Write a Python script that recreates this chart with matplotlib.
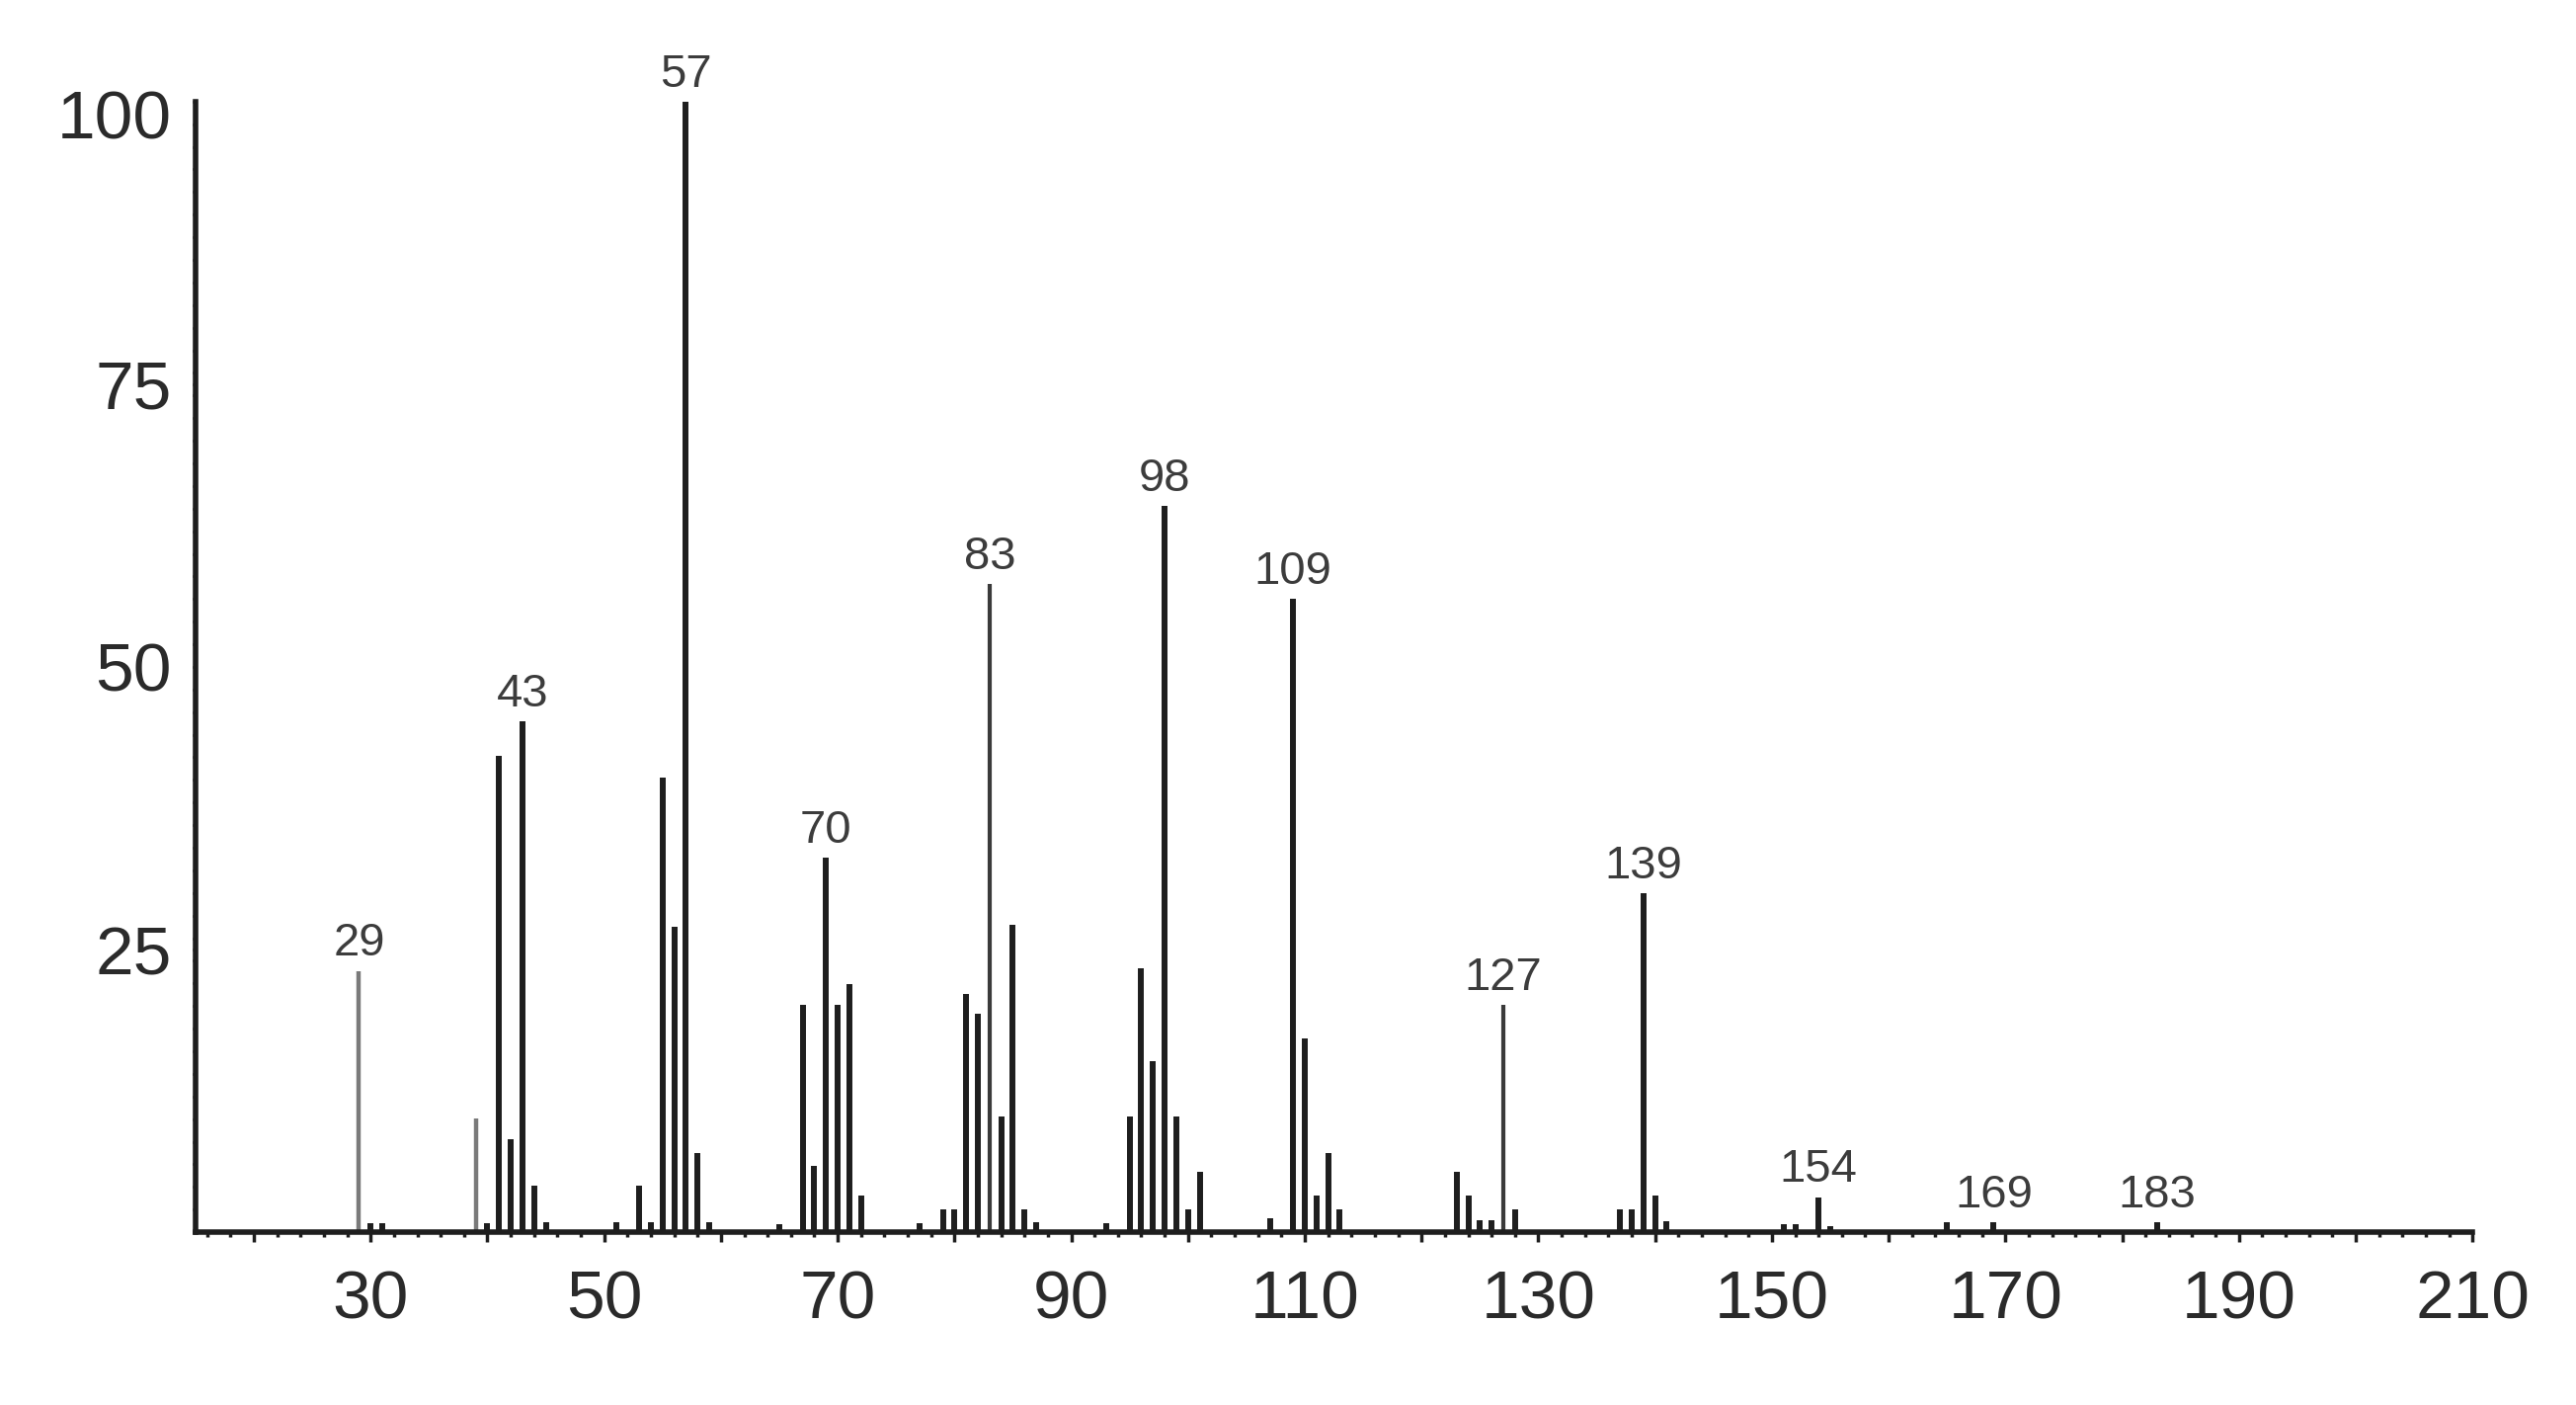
import matplotlib
matplotlib.use('Agg')
import matplotlib.pyplot as plt
import matplotlib.transforms as mtransforms
from matplotlib.ticker import MultipleLocator, FixedLocator, FuncFormatter

# ---- data (m/z vs relative intensity) ----
mz = [29, 30, 31, 39, 40, 41, 42, 43, 44, 45, 51, 53, 54, 55, 56, 57, 58, 59,
      65, 67, 68, 69, 70, 71, 72, 77, 79, 80, 81, 82, 83, 84, 85, 86, 87, 93,
      95, 96, 97, 98, 99, 100, 101, 107, 109, 110, 111, 112, 113, 123, 124,
      125, 126, 127, 128, 137, 138, 139, 140, 141, 151, 152, 154, 155, 165,
      169, 183]
intensity = [23.1, 0.8, 0.8, 10.1, 0.8, 42.1, 8.2, 45.2, 4.1, 0.9, 0.9, 4.1,
             0.9, 40.2, 27.0, 100.0, 7.0, 0.9, 0.7, 20.1, 5.9, 33.1, 20.1,
             21.9, 3.2, 0.8, 2.0, 2.0, 21.1, 19.3, 57.3, 10.2, 27.2, 2.0, 0.9,
             0.8, 10.2, 23.3, 15.1, 64.2, 10.2, 2.0, 5.3, 1.2, 56.0, 17.1, 3.2,
             7.0, 2.0, 5.3, 3.2, 1.1, 1.1, 20.1, 2.0, 2.0, 2.0, 30.0, 3.2, 1.0,
             0.7, 0.7, 3.1, 0.5, 0.9, 0.9, 0.9]

label_mz = [29, 43, 57, 69, 83, 98, 109, 127, 139, 154, 169, 183]
label_text = ['29', '43', '57', '70', '83', '98', '109', '127', '139', '154', '169', '183']

x_major = list(range(20, 211, 10))
x_labelled = list(range(30, 211, 20))
y_labelled = [25, 50, 75, 100]

# ---- styles ----
grey_peaks = {29, 39}
thin_peaks = {83, 127}

plt.rcParams['font.family'] = ['Liberation Sans', 'DejaVu Sans']

fig = plt.figure(figsize=(26.08, 14.22), dpi=100)
ax = fig.add_axes([0.0759, 0.123, 0.8839, 0.8047])

for m, v in zip(mz, intensity):
    if m in grey_peaks:
        col, lw = '#7a7a7a', 3.2
    elif m in thin_peaks:
        col, lw = '#3a3a3a', 3.0
    else:
        col, lw = '#1e1e1e', 4.3
    ax.vlines(m, 0, v, colors=col, linewidth=lw, clip_on=False, zorder=2)

height = dict(zip(mz, intensity))
for m, t in zip(label_mz, label_text):
    ax.annotate(t, xy=(m, height[m]), xytext=(0, 11), textcoords='offset points',
                ha='center', va='baseline', fontsize=34, color='#3c3c3c',
                annotation_clip=False)

ax.set_xlim(15, 210)
ax.set_ylim(0, 100)

for s in ['top', 'right']:
    ax.spines[s].set_visible(False)
for s in ['left', 'bottom']:
    ax.spines[s].set_linewidth(4.0)
    ax.spines[s].set_color('#1e1e1e')

ax.xaxis.set_major_locator(FixedLocator(x_major))
ax.xaxis.set_major_formatter(FuncFormatter(lambda v, p: f'{int(round(v))}' if int(round(v)) in x_labelled else ''))
ax.xaxis.set_minor_locator(MultipleLocator(2))
ax.yaxis.set_major_locator(FixedLocator(y_labelled))
ax.yaxis.set_minor_locator(MultipleLocator(2))

ax.tick_params(axis='x', which='major', direction='out', length=7, width=2.5,
               colors='#1e1e1e', labelsize=50, labelcolor='#2a2a2a', pad=20)
ax.tick_params(axis='x', which='minor', direction='out', length=3.5, width=2.5,
               colors='#1e1e1e')
ax.tick_params(axis='y', which='major', direction='out', length=2.5, width=2,
               colors='#1e1e1e', labelsize=50, labelcolor='#2a2a2a', pad=15)
ax.tick_params(axis='y', which='minor', direction='out', length=2.5, width=2,
               colors='#1e1e1e')

# the top label sits a little lower than its tick in the reference
fig.canvas.draw()
offset = mtransforms.ScaledTranslation(0, -9 / 72, fig.dpi_scale_trans)
for tick in ax.yaxis.get_major_ticks():
    if abs(tick.get_loc() - 100) < 1e-6:
        tick.label1.set_transform(tick.label1.get_transform() + offset)

fig.savefig('out.png', dpi=100, facecolor='white')
